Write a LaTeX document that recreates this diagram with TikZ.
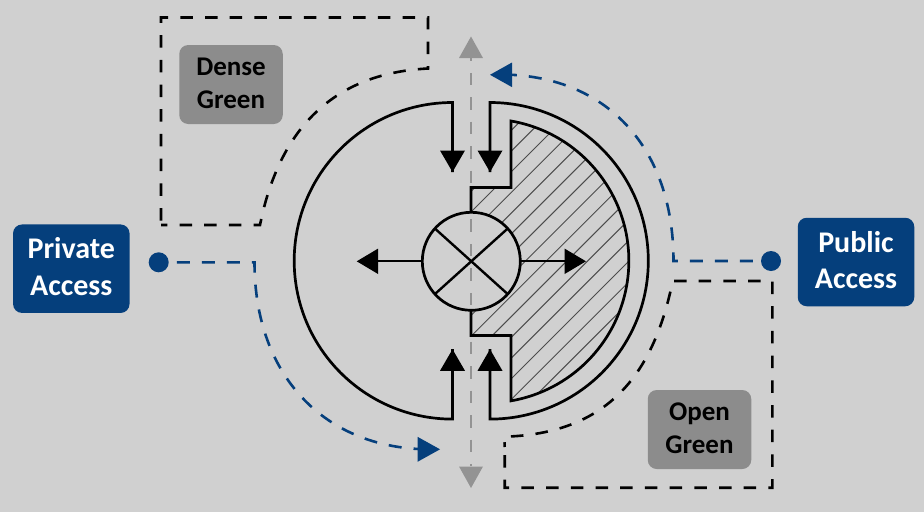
\documentclass[tikz,border=0pt]{standalone}
\usepackage{fontspec}
\setmainfont{Carlito}
\usetikzlibrary{arrows.meta}
\definecolor{bgc}{HTML}{D0D0D0}
\definecolor{navy}{HTML}{053F7C}
\definecolor{boxg}{HTML}{8C8C8C}
\definecolor{arrg}{HTML}{939393}
\tikzset{
  x=1pt,y=1pt,
  wall/.style={line width=2.7pt,black,line join=miter},
  thin wall/.style={line width=2.2pt,black},
  dashk/.style={line width=2.6pt,black,dash pattern=on 12.5pt off 12.2pt},
  dashb/.style={line width=2.6pt,navy,dash pattern=on 13pt off 12pt,dash phase=17pt},
  dashg/.style={line width=2.6pt,arrg,dash pattern=on 12.5pt off 11.95pt},
  navybox/.style={fill=navy,rounded corners=9pt,text=white,font=\fontsize{30}{36.5}\selectfont\bfseries,align=center,inner sep=0pt,anchor=center},
  graybox/.style={fill=boxg,rounded corners=9pt,text=black,font=\fontsize{27}{33}\selectfont\bfseries,align=center,inner sep=0pt,anchor=center},
}
\begin{document}
\begin{tikzpicture}
\useasboundingbox (0,-512) rectangle (924,0);
\fill[bgc] (0,-512) rectangle (924,0);
% hatched region
\begin{scope}
\clip (511,-121) arc[start angle=80.2,end angle=-80.2,radius=142] -- (511,-335.5) -- (471,-335.5) -- (471,-187.5) -- (511,-187.5) -- cycle;
\foreach \k in {-4,...,15}{
  \draw[line width=1pt,black!70] (440,{-450+\k*20.7}) -- ++(300,300);
}
\end{scope}
% centre disc
\node[circle,fill=bgc,minimum size=98pt,inner sep=0pt] (hub) at (471.3,-261.3) {};
% grey axis
\coordinate (gt) at (471,-36.5);\coordinate (gb) at (471,-488);
\coordinate (gs) at (471,-48.3);\coordinate (ge) at (471,-466);
\draw[dashg] (gs) -- (ge);
\fill[arrg] (gt) -- ++(-12,-21.5) -- ++(24,0) -- cycle;
\fill[arrg] (gb) -- ++(-12,21.5) -- ++(24,0) -- cycle;
% walls
\draw[wall] (471,-212) -- (471,-187.5) -- (511,-187.5) -- (511,-121) arc[start angle=80.2,end angle=-80.2,radius=142] -- (511,-335.5) -- (471,-335.5) -- (471,-310);
\draw[wall] (452.5,-172) -- (452.5,-102.5) arc[start angle=90,end angle=270,radius=158.3] -- (452.5,-349);
\draw[wall] (490,-172) -- (490,-102.5) arc[start angle=90,end angle=-90,radius=158.3] -- (490,-349);
\fill (452.5,-172) -- ++(-12.5,21.5) -- ++(25,0) -- cycle;
\fill (490,-172) -- ++(-12.5,21.5) -- ++(25,0) -- cycle;
\fill (452.5,-349.3) -- ++(-12.5,-21.5) -- ++(25,0) -- cycle;
\fill (490,-349.3) -- ++(-12.5,-21.5) -- ++(25,0) -- cycle;
% centre circle
\draw[line width=2.7pt] (hub) circle[radius=49];
\draw[line width=2.4pt] (hub.42) -- (hub.222);
\draw[line width=2.4pt] (hub.138) -- (hub.318);
\coordinate (lt) at (356.7,-261.3);\coordinate (rt) at (586,-261.3);
\draw[thin wall,-{Triangle[length=21.5pt,width=25pt]}] (hub.west) -- (lt);
\draw[thin wall,-{Triangle[length=21.5pt,width=25pt]}] (hub.east) -- (rt);
% black dashed zones
\draw[dashk] (161,-220.5) -- (161,-17.5) -- (428,-17.5) -- (428,-68.5) .. controls (328,-73.5) and (278,-135) .. (260,-225) -- (161,-225);
\draw[dashk] (504.7,-455) -- (504.7,-487.7) -- (772.3,-487.7) -- (772.3,-281) -- (672.7,-281) .. controls (653,-377) and (606,-433.7) .. (504.3,-436.7) -- (504.7,-447);
% blue routes
\node[circle,fill=navy,minimum size=20pt,inner sep=0pt] (pd) at (158.7,-262.3) {};
\node[circle,fill=navy,minimum size=20pt,inner sep=0pt] (qd) at (771,-261) {};
\coordinate (pa) at (254.5,-262.3);\coordinate (qa) at (673.5,-261);
\draw[dashb] (pd.east) -- (pa) .. controls (254.5,-377) and (326,-449.3) .. (430,-449.3);
\draw[dashb] (qd.west) -- (qa) .. controls (673.5,-146) and (605,-74.5) .. (500,-74.5);
\fill[navy] (440,-449.3) -- ++(-22.5,12.5) -- ++(0,-25) -- cycle;
\fill[navy] (490,-74.8) -- ++(22,12.3) -- ++(0,-24.6) -- cycle;
% labels
\node[navybox,minimum width=116.5pt,minimum height=88.5pt] (priv) at (71.3,-268.7) {\parbox{110pt}{\centering Private\\Access\par\vspace{4pt}}};
\node[navybox,minimum width=116.5pt,minimum height=88.5pt] (pub) at (856,-262) {\parbox{110pt}{\centering Public\\Access\par\vspace{4pt}}};
\node[graybox,minimum width=103.5pt,minimum height=79pt] (dense) at (231,-84.5) {\parbox{100pt}{\centering Dense\\Green\par\vspace{3pt}}};
\node[graybox,minimum width=103.5pt,minimum height=79pt] (open) at (699.5,-429.5) {\parbox{100pt}{\centering Open\\Green\par\vspace{3pt}}};
\end{tikzpicture}
\end{document}
